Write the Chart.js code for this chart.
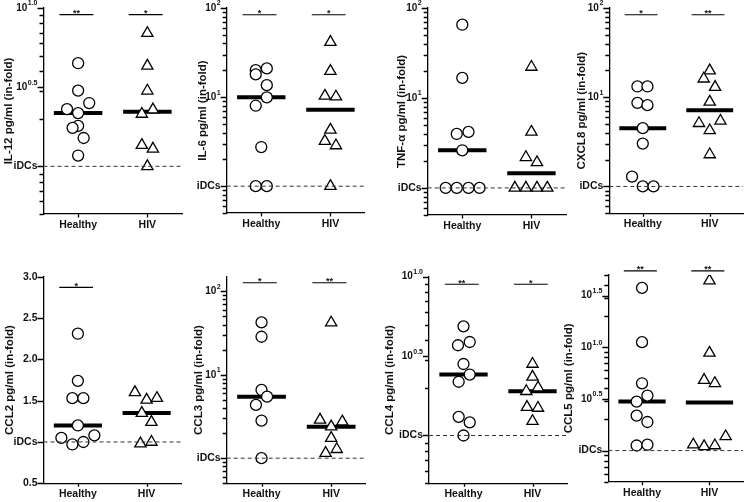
<!DOCTYPE html>
<html>
<head>
<meta charset="utf-8">
<script src="https://cdn.jsdelivr.net/npm/chart.js@4.4.0/dist/chart.umd.min.js"></script>
<style>
  html, body { margin: 0; padding: 0; background: #fff; }
  #wrap { position: relative; width: 751px; height: 502px; overflow: hidden; }
  #wrap canvas { position: absolute; left: 0; top: 0; }
</style>
</head>
<body>
<div id="wrap"></div>
<script>
/* ---- Data (fold change over iDCs) --------------------------------------- */

const groups = ["Healthy", "HIV"];

const il12Healthy = [4.48, 3.01, 2.51, 2.30, 2.17, 1.80, 1.75, 1.51, 1.17];
const il12HealthyJitter = [0, 0, 0.16, -0.16, 0, 0, -0.08, 0.08, 0];
const il12Hiv = [6.93, 4.31, 3.00, 2.14, 2.28, 1.36, 1.29, 1.00];
const il12HivJitter = [0, 0, 0, -0.08, 0.08, -0.08, 0.08, 0];

const il6Healthy = [20.1, 18.0, 21.0, 13.6, 9.93, 8.0, 2.75, 1.0, 1.0];
const il6HealthyJitter = [-0.08, -0.08, 0.08, 0.08, 0.08, -0.08, 0, -0.08, 0.08];
const il6Hiv = [41.4, 19.6, 10.3, 10.1, 4.29, 3.21, 2.86, 1.0];
const il6HivJitter = [0, 0, -0.08, 0.08, 0, -0.08, 0.08, 0];

const tnfHealthy = [65.2, 16.7, 3.98, 4.19, 2.62, 1.0, 1.0, 1.0, 1.0];
const tnfHealthyJitter = [0, 0, -0.08, 0.09, 0, -0.24, -0.08, 0.09, 0.25];
const tnfHiv = [22.1, 4.19, 2.19, 1.92, 1.0, 1.0, 1.0, 1.0];
const tnfHivJitter = [0, 0, -0.08, 0.08, -0.24, -0.08, 0.08, 0.23];

const cxcl8Healthy = [13.2, 13.2, 8.65, 8.15, 4.5, 3.02, 1.29, 1.0, 1.0];
const cxcl8HealthyJitter = [-0.08, 0.07, -0.08, 0.07, 0, 0, -0.16, 0, 0.16];
const cxcl8Hiv = [19.9, 16.1, 13.0, 8.87, 5.11, 5.42, 4.24, 2.28];
const cxcl8HivJitter = [0, -0.09, 0.08, 0, -0.16, 0.16, 0, 0];

const ccl2Healthy = [2.31, 1.74, 1.53, 1.53, 1.20, 1.05, 0.97, 1.00, 1.08];
const ccl2HealthyJitter = [0, 0, -0.08, 0.08, 0, -0.24, -0.08, 0.08, 0.24];
const ccl2Hiv = [1.60, 1.51, 1.53, 1.35, 1.24, 0.98, 1.00];
const ccl2HivJitter = [-0.17, 0, 0.15, -0.07, 0.07, -0.09, 0.07];

const ccl3Healthy = [42.5, 28.6, 6.58, 5.47, 4.35, 2.82, 1.0];
const ccl3HealthyJitter = [0, 0, 0, 0.08, -0.08, 0, 0];
const ccl3Hiv = [42.1, 2.88, 2.74, 2.39, 1.74, 1.15, 1.28];
const ccl3HivJitter = [0, -0.16, 0.16, 0, 0, -0.08, 0.08];

const ccl4Healthy = [4.87, 3.70, 3.88, 2.82, 2.42, 2.18, 1.31, 1.21, 1.0];
const ccl4HealthyJitter = [0, -0.08, 0.09, 0, 0.09, -0.07, -0.07, 0.09, 0];
const ccl4Hiv = [2.82, 2.34, 2.0, 1.90, 1.51, 1.49, 1.23];
const ccl4HivJitter = [0, 0, 0.08, -0.09, -0.08, 0.08, 0];

const ccl5Healthy = [37.5, 11.2, 4.48, 3.4, 2.98, 2.18, 1.89, 1.12, 1.14];
const ccl5HealthyJitter = [0, 0, 0, 0.08, -0.08, -0.08, 0.08, -0.08, 0.08];
const ccl5Hiv = [44.1, 8.81, 4.81, 4.48, 1.37, 1.14, 1.10, 1.12];
const ccl5HivJitter = [0, 0, -0.08, 0.08, 0.24, -0.24, -0.08, 0.08];

/* ---- Tick labels ("a^b" is drawn as a superscript) ---------------------- */

const halfLogTicks = [10, 3.162, 1];
const halfLogLabels = ["10^1.0", "10^0.5", "iDCs"];
const decadeTicks = [100, 10, 1];
const decadeLabels = ["10^2", "10^1", "iDCs"];
const ccl2Ticks = [3.0, 2.5, 2.0, 1.5, 1.0, 0.5];
const ccl2Labels = ["3.0", "2.5", "2.0", "1.5", "iDCs", "0.5"];
const ccl5Ticks = [31.62, 10, 3.162, 1];
const ccl5Labels = ["10^1.5", "10^1.0", "10^0.5", "iDCs"];

/* ---- Helpers ------------------------------------------------------------ */

const FONT = '"Liberation Sans", Arial, Helvetica, sans-serif';

function median(values) {
  const s = values.slice().sort((a, b) => a - b);
  const m = Math.floor(s.length / 2);
  return s.length % 2 ? s[m] : (s[m - 1] + s[m]) / 2;
}

// 1..9 x 10^n minor tick marks between min and max (log axes).
function logMinorMarks(min, max) {
  const out = [];
  for (let e = -1; e <= 2; e++) {
    for (let k = 1; k <= 9; k++) {
      const v = k * Math.pow(10, e);
      if (v >= min - 1e-9 && v <= max + 1e-9) out.push(v);
    }
  }
  return out;
}

function drawTickLabel(ctx, label, xRight, y) {
  ctx.fillStyle = "#111";
  ctx.textBaseline = "middle";
  const parts = label.split("^");
  if (parts.length === 1) {
    ctx.font = `bold 10.5px ${FONT}`;
    ctx.textAlign = "right";
    ctx.fillText(label, xRight, y);
    return;
  }
  ctx.font = `bold 7px ${FONT}`;
  const ew = ctx.measureText(parts[1]).width;
  ctx.textAlign = "left";
  ctx.fillText(parts[1], xRight - ew, y - 4.5);
  ctx.font = `bold 10px ${FONT}`;
  ctx.textAlign = "right";
  ctx.fillText(parts[0], xRight - ew - 0.5, y);
}

/* ---- Panel builder ------------------------------------------------------ */

const wrap = document.getElementById("wrap");
const Y_WIDTH = 30;
const X_HEIGHT = 22;

function makePanel(p) {
  const canvas = document.createElement("canvas");
  canvas.width = 751;
  canvas.height = 502;
  wrap.appendChild(canvas);

  const datasets = [];

  // iDCs reference line
  datasets.push({
    type: "line",
    data: [{ x: -0.5, y: 1 }, { x: 1.5, y: 1 }],
    borderColor: "#333",
    borderWidth: 1,
    borderDash: [4, 3],
    pointRadius: 0,
    order: 0,
  });

  datasets.push({
    type: "scatter",
    data: p.healthy.map((v, i) => ({ x: p.healthyJitter[i], y: v })),
    pointStyle: "circle",
    pointRadius: 5.5,
    borderColor: "#000",
    backgroundColor: "#fff",
    borderWidth: 1.3,
    order: 1,
  });

  datasets.push({
    type: "scatter",
    data: p.hiv.map((v, i) => ({ x: 1 + p.hivJitter[i], y: v })),
    pointStyle: "triangle",
    pointRadius: 6.5,
    borderColor: "#000",
    backgroundColor: "#fff",
    borderWidth: 1.3,
    order: 1,
  });

  // median bars
  [p.healthy, p.hiv].forEach((vals, g) => {
    const m = median(vals);
    datasets.push({
      type: "line",
      data: [{ x: g - 0.35, y: m }, { x: g + 0.35, y: m }],
      borderColor: "#000",
      borderWidth: 4,
      borderCapStyle: "butt",
      pointRadius: 0,
      order: 2,
    });
  });

  // significance bars
  p.sig.forEach((s, g) => {
    if (!s) return;
    datasets.push({
      type: "line",
      data: [{ x: g - 0.27, y: p.sigY }, { x: g + 0.22, y: p.sigY }],
      borderColor: "#000",
      borderWidth: 1.2,
      pointRadius: 0,
      clip: false,
      order: 2,
      sigText: s,
    });
  });

  const isLog = p.type === "logarithmic";
  const minorMarks = isLog ? logMinorMarks(p.min, p.max) : [];

  const panelPlugin = {
    id: "panelText",
    afterDraw(chart) {
      const ctx = chart.ctx;
      const ys = chart.scales.y;
      const xs = chart.scales.x;
      const area = chart.chartArea;
      ctx.save();

      // tick marks, left of the y axis and under the x axis
      ctx.strokeStyle = "#000";
      ctx.lineWidth = 1.3;
      ctx.beginPath();
      minorMarks.forEach((v) => {
        const y = Math.round(ys.getPixelForValue(v)) + 0.5;
        ctx.moveTo(area.left - 4, y);
        ctx.lineTo(area.left, y);
      });
      p.tickValues.forEach((v) => {
        const y = Math.round(ys.getPixelForValue(v)) + 0.5;
        ctx.moveTo(area.left - 6, y);
        ctx.lineTo(area.left, y);
      });
      [0, 1].forEach((g) => {
        const x = Math.round(xs.getPixelForValue(g)) + 0.5;
        ctx.moveTo(x, area.bottom);
        ctx.lineTo(x, area.bottom + 3.5);
      });
      ctx.stroke();

      // y tick labels
      p.tickValues.forEach((v, i) => {
        drawTickLabel(ctx, p.tickLabels[i], area.left - 6, ys.getPixelForValue(v));
      });

      // y title
      ctx.translate(p.titleX, (area.top + area.bottom) / 2);
      ctx.rotate(-Math.PI / 2);
      ctx.font = `bold 11.5px ${FONT}`;
      ctx.fillStyle = "#111";
      ctx.textAlign = "center";
      ctx.textBaseline = "middle";
      ctx.fillText(p.title, 0, 0);
      ctx.restore();

      // asterisks above significance bars
      ctx.save();
      ctx.font = `bold 9px ${FONT}`;
      ctx.fillStyle = "#111";
      ctx.textAlign = "center";
      ctx.textBaseline = "alphabetic";
      chart.data.datasets.forEach((ds, i) => {
        if (!ds.sigText) return;
        const pts = chart.getDatasetMeta(i).data;
        const cx = (pts[0].x + pts[1].x) / 2;
        ctx.fillText(ds.sigText, cx, pts[0].y + 1.5);
      });
      ctx.restore();
    },
  };

  return new Chart(canvas, {
    data: { datasets },
    plugins: [panelPlugin],
    options: {
      responsive: false,
      animation: false,
      events: [],
      layout: {
        padding: {
          left: p.axisX - Y_WIDTH,
          top: p.top,
          right: 751 - p.right,
          bottom: 502 - p.bottom - X_HEIGHT,
        },
      },
      plugins: { legend: { display: false }, tooltip: { enabled: false } },
      scales: {
        x: {
          type: "linear",
          min: -0.5,
          max: 1.5,
          afterFit: (s) => { s.height = X_HEIGHT; },
          afterBuildTicks: (s) => { s.ticks = [{ value: 0 }, { value: 1 }]; },
          ticks: {
            callback: (v) => groups[v],
            font: { family: FONT, size: 10.5, weight: "bold" },
            color: "#111",
            padding: 5,
            autoSkip: false,
            maxRotation: 0,
          },
          grid: { display: false, drawTicks: false },
          border: { display: true, color: "#000", width: 1.3 },
        },
        y: {
          type: p.type,
          min: p.min,
          max: p.max,
          afterFit: (s) => { s.width = Y_WIDTH; },
          afterBuildTicks: (s) => { s.ticks = p.tickValues.map((v) => ({ value: v })); },
          ticks: { display: false },
          grid: { display: false },
          border: { display: true, color: "#000", width: 1.3 },
        },
      },
    },
  });
}

/* ---- Panels ------------------------------------------------------------- */

makePanel({
  title: "IL-12 pg/ml (in-fold)", type: "logarithmic", min: 0.5, max: 10,
  tickValues: halfLogTicks, tickLabels: halfLogLabels,
  healthy: il12Healthy, healthyJitter: il12HealthyJitter, hiv: il12Hiv, hivJitter: il12HivJitter,
  sig: ["**", "*"], sigY: 9.07,
  axisX: 43.5, right: 182, top: 8, bottom: 214, titleX: 8.5,
});

makePanel({
  title: "IL-6 pg/ml (in-fold)", type: "logarithmic", min: 0.5, max: 100,
  tickValues: decadeTicks, tickLabels: decadeLabels,
  healthy: il6Healthy, healthyJitter: il6HealthyJitter, hiv: il6Hiv, hivJitter: il6HivJitter,
  sig: ["*", "*"], sigY: 84,
  axisX: 226.7, right: 365, top: 8, bottom: 213, titleX: 203,
});

makePanel({
  title: "TNF-\u03b1 pg/ml (in-fold)", type: "logarithmic", min: 0.5, max: 100,
  tickValues: decadeTicks, tickLabels: decadeLabels,
  healthy: tnfHealthy, healthyJitter: tnfHealthyJitter, hiv: tnfHiv, hivJitter: tnfHivJitter,
  sig: [null, null], sigY: 84,
  axisX: 427.7, right: 566, top: 8, bottom: 215, titleX: 402,
});

makePanel({
  title: "CXCL8 pg/ml (in-fold)", type: "logarithmic", min: 0.5, max: 100,
  tickValues: decadeTicks, tickLabels: decadeLabels,
  healthy: cxcl8Healthy, healthyJitter: cxcl8HealthyJitter, hiv: cxcl8Hiv, hivJitter: cxcl8HivJitter,
  sig: ["*", "**"], sigY: 84,
  axisX: 609.3, right: 748, top: 8, bottom: 213.3, titleX: 582,
});

makePanel({
  title: "CCL2 pg/ml (in-fold)", type: "linear", min: 0.5, max: 3.0,
  tickValues: ccl2Ticks, tickLabels: ccl2Labels,
  healthy: ccl2Healthy, healthyJitter: ccl2HealthyJitter, hiv: ccl2Hiv, hivJitter: ccl2HivJitter,
  sig: ["*", null], sigY: 2.87,
  axisX: 43.5, right: 181, top: 276.7, bottom: 483.3, titleX: 9.5,
});

makePanel({
  title: "CCL3 pg/ml (in-fold)", type: "logarithmic", min: 0.5, max: 150,
  tickValues: decadeTicks, tickLabels: decadeLabels,
  healthy: ccl3Healthy, healthyJitter: ccl3HealthyJitter, hiv: ccl3Hiv, hivJitter: ccl3HivJitter,
  sig: ["*", "**"], sigY: 127,
  axisX: 226.7, right: 366, top: 276.7, bottom: 483.3, titleX: 199,
});

makePanel({
  title: "CCL4 pg/ml (in-fold)", type: "logarithmic", min: 0.5, max: 10,
  tickValues: halfLogTicks, tickLabels: halfLogLabels,
  healthy: ccl4Healthy, healthyJitter: ccl4HealthyJitter, hiv: ccl4Hiv, hivJitter: ccl4HivJitter,
  sig: ["**", "*"], sigY: 8.96,
  axisX: 429, right: 567, top: 276.7, bottom: 483.3, titleX: 389.5,
});

makePanel({
  title: "CCL5 pg/ml (in-fold)", type: "logarithmic", min: 0.5, max: 50,
  tickValues: ccl5Ticks, tickLabels: ccl5Labels,
  healthy: ccl5Healthy, healthyJitter: ccl5HealthyJitter, hiv: ccl5Hiv, hivJitter: ccl5HivJitter,
  sig: ["**", "**"], sigY: 54.7,
  axisX: 608.3, right: 747, top: 275, bottom: 481.7, titleX: 568.5,
});
</script>
</body>
</html>
